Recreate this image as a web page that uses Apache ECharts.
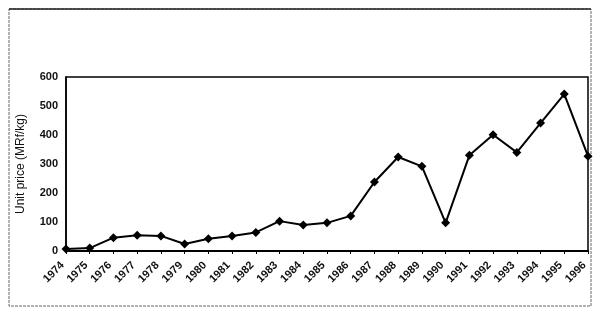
<!DOCTYPE html>
<html>
<head>
<meta charset="utf-8">
<script src="https://cdn.jsdelivr.net/npm/echarts@6/dist/echarts.min.js"></script>
<style>html,body{margin:0;padding:0;background:#fff;}#c{width:600px;height:316px;}</style>
</head>
<body>
<div id="c"></div>
<script>
var years = ['1974','1975','1976','1977','1978','1979','1980','1981','1982','1983','1984','1985','1986','1987','1988','1989','1990','1991','1992','1993','1994','1995','1996'];
var unitPrice = [7, 10, 46, 54, 52, 24, 42, 52, 64, 103, 90, 97, 121, 238, 324, 292, 97, 330, 401, 340, 441, 541, 327];
var yTicks = [0, 100, 200, 300, 400, 500, 600];
var yName = 'Unit price (MRf/kg)';

var chart = echarts.init(document.getElementById('c'), null, {renderer: 'canvas'});
var font = 'Liberation Sans, Arial, sans-serif';
chart.setOption({
  animation: false,
  backgroundColor: '#fff',
  graphic: [{
    type: 'rect',
    shape: {x: 9, y: 9, width: 582, height: 297},
    style: {fill: 'none', stroke: '#666', lineWidth: 1, lineDash: [3, 1]},
    silent: true
  }, {
    type: 'line',
    shape: {x1: 9, y1: 9, x2: 591, y2: 9},
    style: {stroke: '#222', lineWidth: 1.5},
    silent: true
  }],
  grid: {left: 66, right: 12, top: 77, bottom: 65, show: true, borderColor: '#000', borderWidth: 1.5, backgroundColor: 'transparent'},
  xAxis: {
    type: 'category',
    data: years,
    boundaryGap: false,
    axisLine: {lineStyle: {color: '#000', width: 2}},
    axisTick: {show: true, length: 3, alignWithLabel: true, lineStyle: {color: '#000'}},
    axisLabel: {rotate: 45, interval: 0, fontSize: 11, fontWeight: 'bold', color: '#111', fontFamily: font, margin: 9, padding: [0, 5, 0, 0]},
    splitLine: {show: false}
  },
  yAxis: {
    type: 'value',
    min: yTicks[0],
    max: yTicks[yTicks.length - 1],
    interval: 100,
    name: yName,
    nameLocation: 'middle',
    nameGap: 39,
    nameTextStyle: {fontSize: 12, color: '#111', fontFamily: font},
    axisLine: {show: true, lineStyle: {color: '#000', width: 1.5}},
    axisTick: {show: false},
    axisLabel: {fontSize: 11, fontWeight: 'bold', color: '#111', fontFamily: font, margin: 8},
    splitLine: {show: false}
  },
  series: [{
    type: 'line',
    data: unitPrice,
    symbol: 'diamond',
    symbolSize: 9,
    clip: false,
    lineStyle: {color: '#000', width: 2},
    itemStyle: {color: '#000'}
  }]
});
</script>
</body>
</html>
